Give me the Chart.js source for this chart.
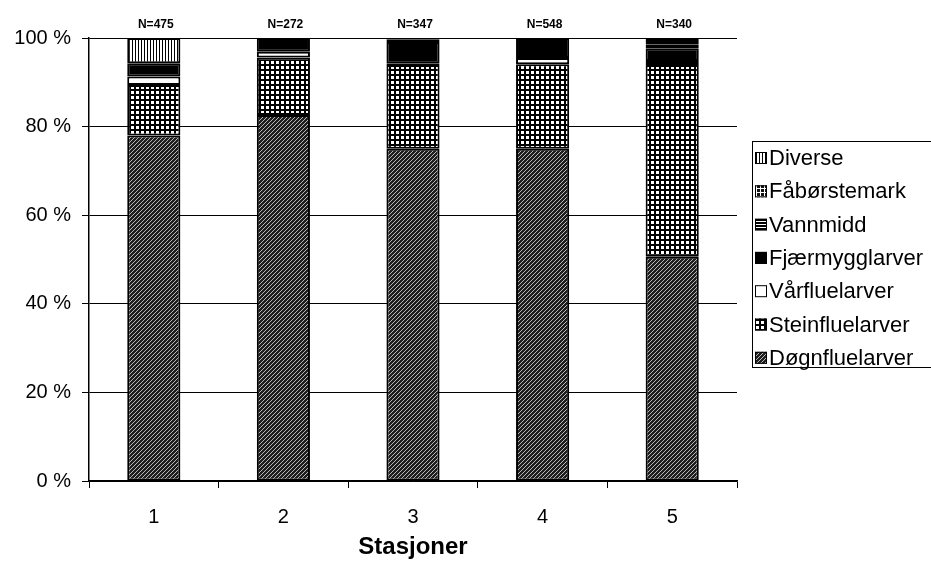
<!DOCTYPE html>
<html>
<head>
<meta charset="utf-8">
<script src="https://cdn.jsdelivr.net/npm/chart.js@4.4.1/dist/chart.umd.min.js"></script>
<style>
  body { margin: 0; background: #fff; }
  canvas { display: block; }
</style>
</head>
<body>
<canvas id="stackChart" width="931" height="569"></canvas>
<script>
// data (andeler i %, lest av figuren)
const stasjoner = ['1', '2', '3', '4', '5'];
const antall = ['N=475', 'N=272', 'N=347', 'N=548', 'N=340'];
const yTicks = [0, 20, 40, 60, 80, 100];

const dognfluelarver = [78.0, 82.6, 75.0, 75.0, 50.6];
const steinfluelarver = [11.4, 13.0, 18.9, 19.1, 43.3];
const varfluelarver = [1.9, 1.3, 0.3, 1.4, 0.9];
const fjaermygglarver = [3.0, 3.1, 4.9, 4.5, 2.9];
const vannmidd = [0, 0, 0.6, 0, 0.9];
const faborstemark = [0, 0, 0.3, 0, 0.7];
const diverse = [5.7, 0, 0, 0, 0.7];

const FONT = "'Liberation Sans', Arial, Helvetica, sans-serif";

// small canvas tiles used as fill patterns
function makePattern(w, h, draw) {
    const c = document.createElement('canvas');
    c.width = w;
    c.height = h;
    const g = c.getContext('2d');
    draw(g);
    return g.createPattern(c, 'repeat');
}

const hatchDiag = makePattern(4, 4, function(g) {
    g.fillStyle = '#1e1e1e';
    g.fillRect(0, 0, 4, 4);
    g.fillStyle = '#b8b8b8';
    for (let x = 0; x < 4; x++) g.fillRect(x, 3 - x, 1, 1);
});
const gridWhite = makePattern(5, 5, function(g) {
    g.fillStyle = '#000';
    g.fillRect(0, 0, 5, 5);
    g.fillStyle = '#fff';
    g.fillRect(1, 1, 3, 3);
});
const gridBlack = makePattern(4, 4, function(g) {
    g.fillStyle = '#111';
    g.fillRect(0, 0, 4, 4);
    g.fillStyle = '#fff';
    g.fillRect(0, 0, 4, 1);
    g.fillRect(0, 0, 1, 4);
});
const horizLines = makePattern(3, 3, function(g) {
    g.fillStyle = '#000';
    g.fillRect(0, 0, 3, 3);
    g.fillStyle = '#fff';
    g.fillRect(0, 2, 3, 1);
});
const vertLines = makePattern(3, 3, function(g) {
    g.fillStyle = '#fff';
    g.fillRect(0, 0, 3, 3);
    g.fillStyle = '#000';
    g.fillRect(0, 0, 1, 3);
});

function serie(label, data, fill) {
    return {
        label: label,
        data: data,
        backgroundColor: fill,
        borderColor: '#000',
        borderWidth: 2,
        borderSkipped: false,
        barPercentage: 0.41,
        categoryPercentage: 1.0
    };
}

// N= over hver stolpe
const nLabels = {
    id: 'nLabels',
    afterDatasetsDraw(chart) {
        const ctx = chart.ctx;
        const xs = chart.scales.x;
        ctx.save();
        ctx.font = 'bold 12px ' + FONT;
        ctx.fillStyle = '#000';
        ctx.textAlign = 'center';
        ctx.textBaseline = 'middle';
        antall.forEach(function(t, i) {
            ctx.fillText(t, xs.getPixelForValue(i) + 2, 25);
        });
        ctx.restore();
    }
};

// legend with frame, like the Excel one
const boxLegend = {
    id: 'boxLegend',
    afterDraw(chart) {
        const ctx = chart.ctx;
        const sets = chart.data.datasets.slice().reverse();
        ctx.save();
        ctx.strokeStyle = '#000';
        ctx.lineWidth = 1;
        ctx.strokeRect(752.5, 141.5, 200, 226);
        ctx.font = '22px ' + FONT;
        ctx.textBaseline = 'middle';
        sets.forEach(function(ds, k) {
            const y = 158 + k * 33.3;
            ctx.fillStyle = ds.backgroundColor;
            ctx.fillRect(755, y - 6, 12, 12);
            ctx.strokeRect(755.5, y - 5.5, 11, 11);
            ctx.fillStyle = '#000';
            ctx.fillText(ds.label, 769, y + 1);
        });
        ctx.restore();
    }
};

const ctx = document.getElementById('stackChart');

new Chart(ctx, {
    type: 'bar',
    data: {
        labels: stasjoner,
        datasets: [
            serie('Døgnfluelarver', dognfluelarver, hatchDiag),
            serie('Steinfluelarver', steinfluelarver, gridWhite),
            serie('Vårfluelarver', varfluelarver, '#fff'),
            serie('Fjærmygglarver', fjaermygglarver, '#000'),
            serie('Vannmidd', vannmidd, horizLines),
            serie('Fåbørstemark', faborstemark, gridBlack),
            serie('Diverse', diverse, vertLines)
        ]
    },
    options: {
        responsive: false,
        animation: false,
        layout: {
            padding: { top: 38, right: 194, bottom: 0, left: 0 }
        },
        scales: {
            x: {
                stacked: true,
                afterFit: function(s) { s.height = 88; },
                grid: {
                    drawOnChartArea: false,
                    drawTicks: true,
                    tickLength: 7,
                    color: '#000',
                    lineWidth: 1
                },
                border: { display: true, color: '#000', width: 1.5 },
                ticks: {
                    color: '#000',
                    padding: 17,
                    font: { family: FONT, size: 20 }
                },
                title: {
                    display: true,
                    text: 'Stasjoner',
                    color: '#000',
                    padding: { top: 0, bottom: 7 },
                    font: { family: FONT, size: 24, weight: 'bold' }
                }
            },
            y: {
                stacked: true,
                min: 0,
                max: 100,
                afterFit: function(s) { s.width = 89; },
                afterBuildTicks: function(s) {
                    s.ticks = yTicks.map(function(v) { return { value: v }; });
                },
                grid: {
                    color: '#000',
                    lineWidth: 1,
                    tickLength: 7
                },
                border: { display: true, color: '#000', width: 1.5 },
                ticks: {
                    color: '#000',
                    padding: 11,
                    font: { family: FONT, size: 20 },
                    callback: function(v) { return v + ' %'; }
                }
            }
        },
        plugins: {
            legend: { display: false },
            tooltip: { enabled: false }
        }
    },
    plugins: [nLabels, boxLegend]
});
</script>
</body>
</html>
